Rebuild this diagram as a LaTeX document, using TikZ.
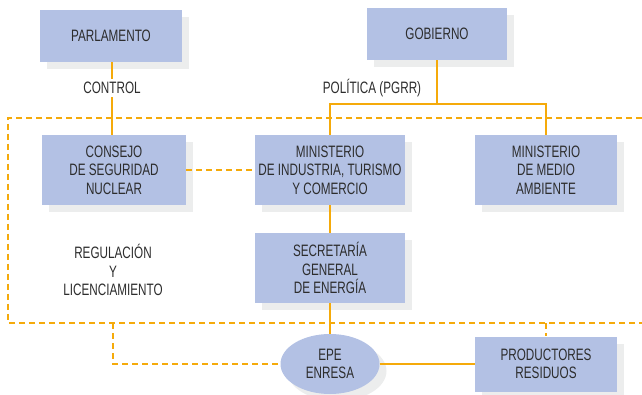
\documentclass[tikz,border=0pt]{standalone}
\usepackage{fontspec}
\setmainfont{Liberation Sans}[FakeStretch=0.71]
\usetikzlibrary{shapes.geometric,shadows}
\definecolor{boxblue}{RGB}{179,193,228}
\definecolor{lineorange}{RGB}{245,170,10}
\definecolor{shadowgray}{RGB}{236,237,237}
\definecolor{textgray}{RGB}{45,45,45}
\tikzset{
  orgbox/.style={fill=boxblue, draw=none, align=center, text=textgray,
    font=\fontsize{16.5}{18.5}\selectfont,
    drop shadow={shadow xshift=7pt, shadow yshift=-7pt, fill=shadowgray, opacity=1}},
  label/.style={align=center, text=textgray, font=\fontsize{16.5}{18.5}\selectfont},
  link/.style={draw=lineorange, line width=2.8pt},
  dashlink/.style={draw=lineorange, line width=2.8pt, dash pattern=on 6pt off 4pt}
}

\begin{document}
\begin{tikzpicture}[x=1pt, y=-1pt]
			%%%%% START %%%%%
			\useasboundingbox (0,0) rectangle (642,395);
			
			\node[orgbox, minimum width=142pt, minimum height=52pt] (parl) at (111, 36) {PARLAMENTO};
			\node[orgbox, minimum width=140pt, minimum height=52pt] (gob) at (437, 34) {GOBIERNO};
			
			\node[label] (control) at (112, 88) {CONTROL};
			\node[label] (politica) at (372, 88) {POLÍTICA (PGRR)};
			
			\node[orgbox, minimum width=144pt, minimum height=70pt] (csn) at (114, 170) {CONSEJO\\DE SEGURIDAD\\NUCLEAR};
			\node[orgbox, minimum width=150pt, minimum height=70pt] (mitc) at (330, 170) {MINISTERIO\\DE INDUSTRIA, TURISMO\\Y COMERCIO};
			\node[orgbox, minimum width=142pt, minimum height=70pt] (mma) at (546, 170) {MINISTERIO\\DE MEDIO\\AMBIENTE};
			
			\node[label] (regul) at (113, 270) {REGULACIÓN\\Y\\LICENCIAMIENTO};
			\node[orgbox, minimum width=150pt, minimum height=70pt] (sge) at (330, 268) {SECRETARÍA\\GENERAL\\DE ENERGÍA};
			
			\node[orgbox, ellipse, minimum width=99pt, minimum height=60pt, inner sep=0pt] (enresa) at (330, 364) {EPE\\ENRESA};
			\node[orgbox, minimum width=142pt, minimum height=55pt] (prod) at (546, 364) {PRODUCTORES\\RESIDUOS};
			
			% control
			\draw[link] (parl.south -| control) -- (control.north);
			\draw[link] (control.south) -- (control.south |- csn.north);
			
			% politica
			\coordinate (junc) at (gob.south |- 0, 104);
			\draw[link] (gob.south) -- (junc);
			\draw[link] (mitc.north) |- (junc) -| (mma.north);
			
			\draw[link] (mitc.south) -- (sge.north);
			\draw[link] (sge.south) -- (enresa.north);
			\draw[link] (enresa.east) -- (prod.west);
			
			% dashed frame
			\coordinate (ftl) at (8, 118);
			\coordinate (ftr) at (642, 118);
			\coordinate (fbl) at (8, 323);
			\coordinate (fbr) at (642, 323);
			\draw[dashlink] (ftr) -- (ftl) -- (fbl) -- (fbr);
			
			\draw[dashlink] (csn.east) -- (mitc.west);
			\draw[dashlink] (regul.south |- fbl) |- (enresa.west);
			\draw[dashlink] (prod.north |- fbl) -- (prod.north);
			
			%%%%% END %%%%%
		\end{tikzpicture}
\end{document}
